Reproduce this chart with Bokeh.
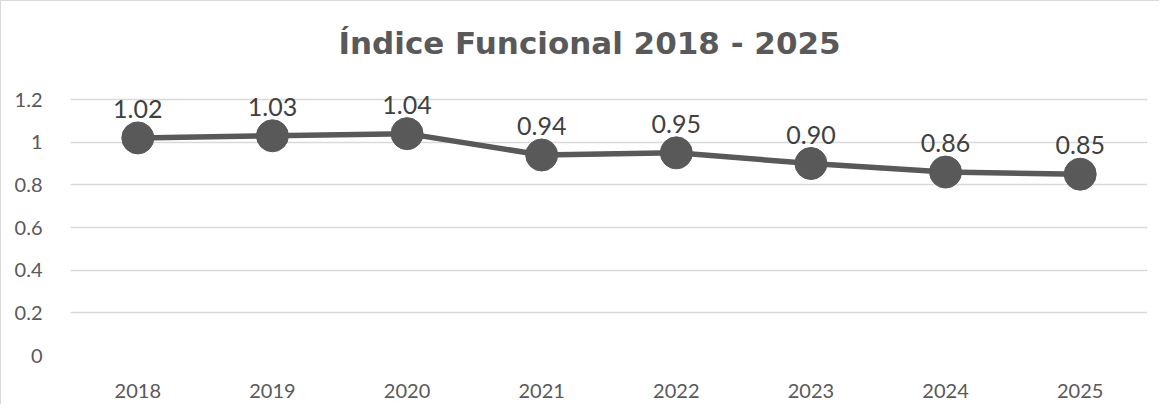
from bokeh.plotting import figure
from bokeh.models import ColumnDataSource, Range1d, FixedTicker, Title
from bokeh.embed import file_html
from bokeh.resources import INLINE
from bokeh.core.properties import value

years = ["2018", "2019", "2020", "2021", "2022", "2023", "2024", "2025"]
indice = [1.02, 1.03, 1.04, 0.94, 0.95, 0.90, 0.86, 0.85]
labels = ["1.02", "1.03", "1.04", "0.94", "0.95", "0.90", "0.86", "0.85"]
y_ticks = [0, 0.2, 0.4, 0.6, 0.8, 1.0, 1.2]
title_text = "Índice Funcional 2018 - 2025"

FONT = "Lato"
DARK = "#595959"

src = ColumnDataSource(data=dict(x=years, y=indice, lab=labels))

p = figure(x_range=years, y_range=Range1d(0, 1.322),
           width=1159, height=404, output_backend="svg", toolbar_location=None,
           min_border_left=69, min_border_right=13, min_border_top=72, min_border_bottom=50)

p.title = Title(text=title_text, align="left", offset=268, standoff=25,
                text_font="DejaVu Sans", text_font_size="31px", text_color=DARK,
                text_font_style="bold")

p.outline_line_color = None
p.background_fill_color = "white"
p.border_fill_color = "white"
p.styles = {"border-left": "1px solid #d9d9d9", "border-top": "1px solid #d9d9d9"}

p.xgrid.grid_line_color = None
p.ygrid.grid_line_color = "#d9d9d9"
p.ygrid.grid_line_width = 1.3

p.yaxis.ticker = FixedTicker(ticks=y_ticks)
p.yaxis.major_label_overrides = {0: "0", 0.2: "0.2", 0.4: "0.4", 0.6: "0.6", 0.8: "0.8", 1.0: "1", 1.2: "1.2"}
for ax in (p.xaxis, p.yaxis):
    ax.axis_line_color = None
    ax.major_tick_line_color = None
    ax.minor_tick_line_color = None
    ax.major_label_text_font = FONT
    ax.major_label_text_font_size = "20px"
    ax.major_label_text_color = DARK
    ax.major_label_standoff = 22

p.line("x", "y", source=src, line_color=DARK, line_width=5.5)
p.scatter("x", "y", source=src, size=32, fill_color=DARK, line_color=DARK)
p.text("x", "y", text="lab", source=src, text_font=value(FONT), text_font_size="25px",
       text_color="#404040", text_align="center", text_baseline="alphabetic", y_offset=-29)

open("out.html", "w").write(file_html(p, INLINE))
